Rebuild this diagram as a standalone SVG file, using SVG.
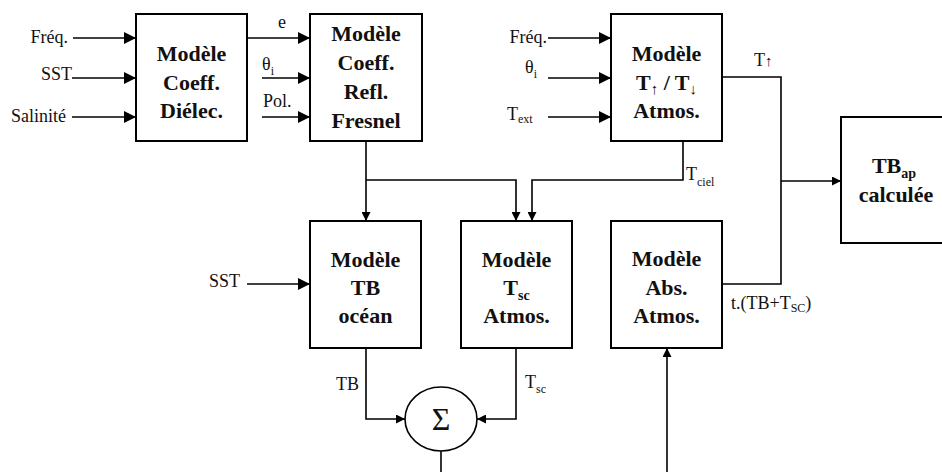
<svg xmlns="http://www.w3.org/2000/svg" width="942" height="472" viewBox="0 0 942 472" font-family="Liberation Serif, Times New Roman, serif">
<defs>
<marker id="ah" markerUnits="userSpaceOnUse" markerWidth="12" markerHeight="12" refX="12" refY="6" orient="auto">
<path d="M0,0 L12,6 L0,12 Z" fill="#000"/>
</marker>
<marker id="as" markerUnits="userSpaceOnUse" markerWidth="9" markerHeight="9" refX="9" refY="4.5" orient="auto">
<path d="M0,0 L9,4.5 L0,9 Z" fill="#000"/>
</marker>
<style>
.box{fill:#fff;stroke:#000;stroke-width:2}
.ln{fill:none;stroke:#000;stroke-width:1.6}
.big{marker-end:url(#ah)}
.sm{marker-end:url(#as)}
.bt{font-size:22px;font-weight:bold;text-anchor:middle;fill:#111}
.lb{font-size:18px;fill:#111}
.sub{font-size:12px}
</style>
</defs>
<rect width="942" height="472" fill="#fff"/>

<g id="connectors">
<line class="ln big" x1="73" y1="38" x2="136" y2="38"/>
<line class="ln big" x1="72" y1="78" x2="136" y2="78"/>
<line class="ln big" x1="72" y1="117" x2="136" y2="117"/>
<line class="ln big" x1="247" y1="38" x2="310" y2="38"/>
<line class="ln big" x1="262" y1="78" x2="310" y2="78"/>
<line class="ln big" x1="262" y1="117" x2="310" y2="117"/>
<line class="ln big" x1="548" y1="38" x2="611" y2="38"/>
<line class="ln big" x1="548" y1="78" x2="611" y2="78"/>
<line class="ln big" x1="548" y1="117" x2="611" y2="117"/>
<path class="ln sm" d="M366,141 V221"/>
<path class="ln sm" d="M366,180 H516 V221"/>
<path class="ln sm" d="M683,141 V180 H532 V221"/>
<line class="ln big" x1="247" y1="284" x2="310" y2="284"/>
<path class="ln sm" d="M366,348 V419 H405"/>
<path class="ln sm" d="M516,348 V419 H477"/>
<line class="ln" x1="441" y1="451" x2="441" y2="472"/>
<line class="ln sm" x1="667" y1="472" x2="667" y2="348"/>
<path class="ln" d="M722,77 H781 V284 H722"/>
<line class="ln sm" x1="781" y1="181" x2="841" y2="181"/>
</g>

<g id="labels" font-family="Liberation Serif">
<text class="lb" x="68" y="43" text-anchor="end">Fréq.</text>
<text class="lb" x="72" y="80" text-anchor="end">SST</text>
<text class="lb" x="66" y="122" text-anchor="end" font-size="16">Salinité</text>
<text class="lb" x="278" y="28">e</text>
<text class="lb" x="262" y="70">θ<tspan class="sub" dy="5">i</tspan></text>
<text class="lb" x="263" y="107">Pol.</text>
<text class="lb" x="547" y="43" text-anchor="end">Fréq.</text>
<text class="lb" x="525" y="73">θ<tspan class="sub" dy="5">i</tspan></text>
<text class="lb" x="507" y="120">T<tspan class="sub" dy="3">ext</tspan></text>
<text class="lb" x="754" y="66">T<tspan font-size="15">↑</tspan></text>
<text class="lb" x="686" y="180">T<tspan class="sub" dy="6">ciel</tspan></text>
<text class="lb" x="240" y="287" text-anchor="end">SST</text>
<text class="lb" x="336" y="390">TB</text>
<text class="lb" x="525" y="388">T<tspan class="sub" dy="5">sc</tspan></text>
<text class="lb" x="731" y="309">t.(TB+T<tspan class="sub" dy="3">SC</tspan><tspan dy="-3">)</tspan></text>
</g>

<g id="n-dielec" font-family="Liberation Serif">
<rect class="box" x="136" y="14" width="111" height="127"/>
<text class="bt" x="191.5" y="61">Modèle</text>
<text class="bt" x="191.5" y="90">Coeff.</text>
<text class="bt" x="191.5" y="118">Diélec.</text>
</g>

<g id="n-fresnel" font-family="Liberation Serif">
<rect class="box" x="310" y="14" width="112" height="127"/>
<text class="bt" x="366" y="41">Modèle</text>
<text class="bt" x="366" y="70">Coeff.</text>
<text class="bt" x="366" y="99">Refl.</text>
<text class="bt" x="366" y="128">Fresnel</text>
</g>

<g id="n-tupdown" font-family="Liberation Serif">
<rect class="box" x="611" y="14" width="111" height="127"/>
<text class="bt" x="666.5" y="61">Modèle</text>
<text class="bt" x="666.5" y="90">T<tspan font-size="15" dy="4">↑</tspan><tspan dy="-4"> / T</tspan><tspan font-size="15" dy="4">↓</tspan></text>
<text class="bt" x="666.5" y="118">Atmos.</text>
</g>

<g id="n-tbocean" font-family="Liberation Serif">
<rect class="box" x="310" y="221" width="111" height="127"/>
<text class="bt" x="365.5" y="267">Modèle</text>
<text class="bt" x="365.5" y="295">TB</text>
<text class="bt" x="365.5" y="323">océan</text>
</g>

<g id="n-tsc" font-family="Liberation Serif">
<rect class="box" x="461" y="221" width="111" height="127"/>
<text class="bt" x="516.5" y="267">Modèle</text>
<text class="bt" x="516.5" y="295">T<tspan font-size="14" dy="5">sc</tspan></text>
<text class="bt" x="516.5" y="323">Atmos.</text>
</g>

<g id="n-abs" font-family="Liberation Serif">
<rect class="box" x="611" y="221" width="111" height="127"/>
<text class="bt" x="666.5" y="266">Modèle</text>
<text class="bt" x="666.5" y="295">Abs.</text>
<text class="bt" x="666.5" y="323">Atmos.</text>
</g>

<g id="n-sum" font-family="Liberation Serif">
<ellipse cx="441" cy="419" rx="36" ry="32" fill="#fff" stroke="#000" stroke-width="1.6"/>
<text x="441" y="430" font-size="32" text-anchor="middle" fill="#111">Σ</text>
</g>

<g id="n-tbap" font-family="Liberation Serif">
<rect class="box" x="841" y="117" width="110" height="126"/>
<text class="bt" x="894" y="173">TB<tspan font-size="14" dy="5">ap</tspan></text>
<text class="bt" x="896" y="202">calculée</text>
</g>
</svg>
